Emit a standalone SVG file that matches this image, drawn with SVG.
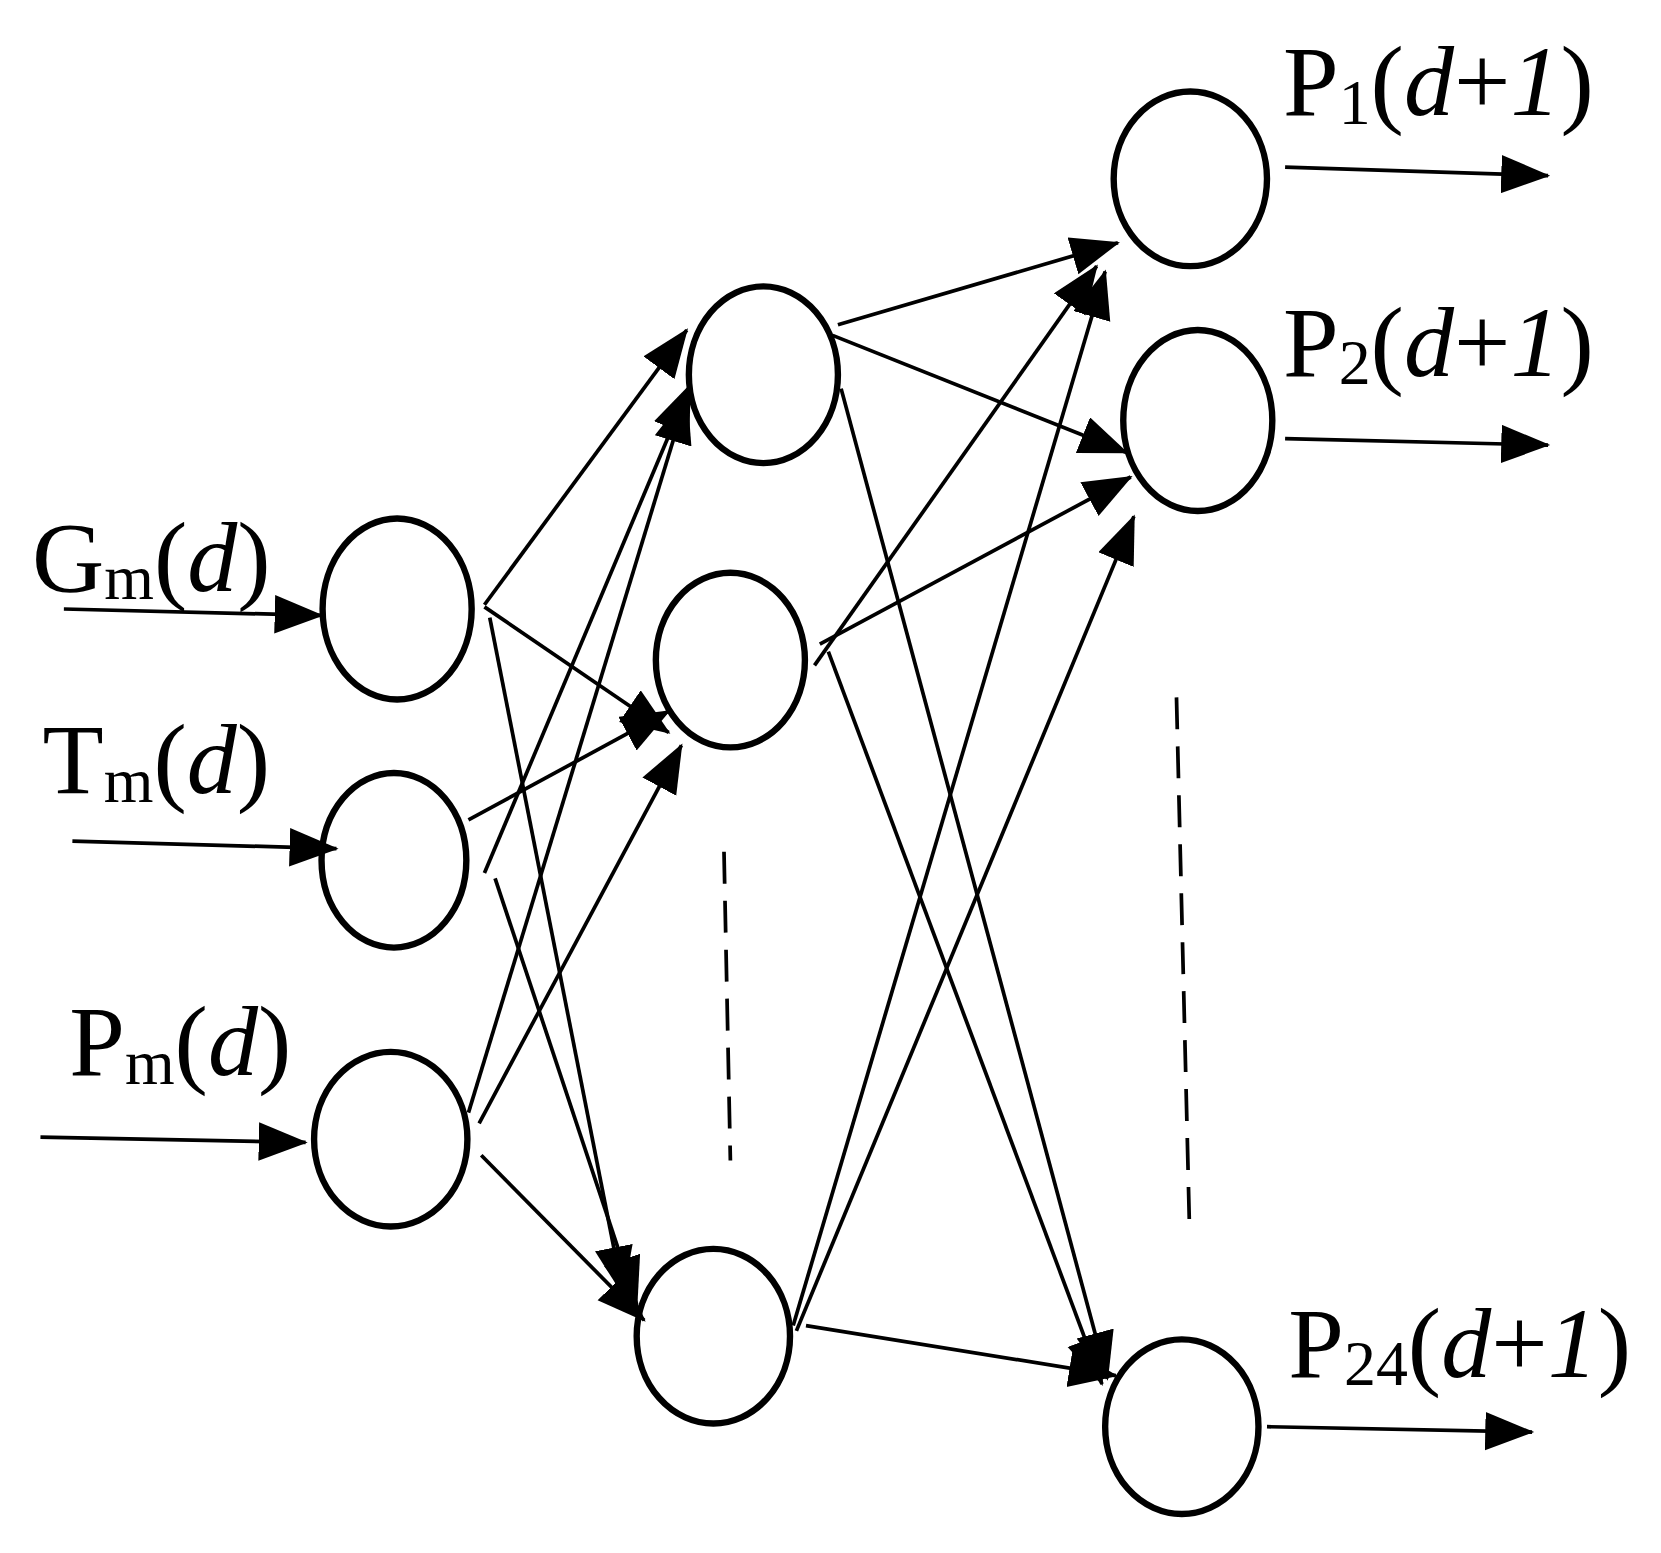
<svg xmlns="http://www.w3.org/2000/svg" width="1661" height="1553" viewBox="0 0 1661 1553">
<style>
.n{fill:none;stroke:#000;stroke-width:6}
.c line{stroke:#000;stroke-width:3.5;marker-end:url(#a)}
.d{stroke:#000;stroke-width:3.5;stroke-dasharray:30 16}
text{font-family:"Liberation Serif","Times New Roman",serif;font-size:94px;fill:#000}
.s{font-size:60px}
.i{font-style:italic}
</style>
<defs><marker id="a" markerUnits="userSpaceOnUse" markerWidth="48" markerHeight="40" refX="44" refY="18" orient="auto"><path d="M0,0L46,18L0,36z" fill="#000"/></marker></defs>
<rect width="1661" height="1553" fill="#fff"/>
<g transform="scale(1.0647)">
<g id="in1"><ellipse class="n" cx="373" cy="572" rx="70" ry="85"/><text x="30" y="555">G<tspan class="s" dy="8">m</tspan><tspan dy="-8">(</tspan><tspan class="i">d</tspan>)</text></g>
<g id="in2"><ellipse class="n" cx="370" cy="808" rx="68" ry="82"/><text x="40" y="745">T<tspan class="s" dy="8">m</tspan><tspan dy="-8">(</tspan><tspan class="i">d</tspan>)</text></g>
<g id="in3"><ellipse class="n" cx="367" cy="1070" rx="72" ry="82"/><text x="65" y="1010">P<tspan class="s" dy="8">m</tspan><tspan dy="-8">(</tspan><tspan class="i">d</tspan>)</text></g>
<g id="h1"><ellipse class="n" cx="717" cy="352" rx="70" ry="83"/></g>
<g id="h2"><ellipse class="n" cx="686" cy="620" rx="70" ry="82"/></g>
<g id="h3"><ellipse class="n" cx="670" cy="1255" rx="72" ry="82"/></g>
<g id="o1"><ellipse class="n" cx="1118" cy="168" rx="72" ry="82"/><text x="1205" y="108">P<tspan class="s" dy="8">1</tspan><tspan dy="-8">(</tspan><tspan class="i">d</tspan>+<tspan class="i">1</tspan>)</text></g>
<g id="o2"><ellipse class="n" cx="1125" cy="395" rx="70" ry="85"/><text x="1205" y="353">P<tspan class="s" dy="8">2</tspan><tspan dy="-8">(</tspan><tspan class="i">d</tspan>+<tspan class="i">1</tspan>)</text></g>
<g id="o3"><ellipse class="n" cx="1110" cy="1340" rx="72" ry="82"/><text x="1210" y="1293">P<tspan class="s" dy="8">24</tspan><tspan dy="-8">(</tspan><tspan class="i">d</tspan>+<tspan class="i">1</tspan>)</text></g>
<line class="d" x1="680" y1="800" x2="686" y2="1090"/>
<line class="d" x1="1105" y1="655" x2="1117" y2="1145"/>
<g class="c" id="connectors">
<line x1="60" y1="572" x2="302" y2="578"/>
<line x1="68" y1="790" x2="316" y2="797"/>
<line x1="38" y1="1068" x2="287" y2="1073"/>
<line x1="1207" y1="157" x2="1454" y2="165"/>
<line x1="1207" y1="412" x2="1454" y2="418"/>
<line x1="1190" y1="1340" x2="1439" y2="1345"/>
<line x1="455" y1="568" x2="645" y2="310"/>
<line x1="455" y1="570" x2="628" y2="688"/>
<line x1="460" y1="580" x2="585" y2="1215"/>
<line x1="440" y1="770" x2="628" y2="668"/>
<line x1="455" y1="820" x2="648" y2="362"/>
<line x1="465" y1="825" x2="598" y2="1225"/>
<line x1="440" y1="1045" x2="645" y2="372"/>
<line x1="450" y1="1055" x2="640" y2="700"/>
<line x1="452" y1="1085" x2="605" y2="1240"/>
<line x1="787" y1="305" x2="1050" y2="228"/>
<line x1="782" y1="315" x2="1058" y2="425"/>
<line x1="790" y1="365" x2="1040" y2="1295"/>
<line x1="765" y1="625" x2="1030" y2="250"/>
<line x1="770" y1="605" x2="1062" y2="448"/>
<line x1="778" y1="612" x2="1035" y2="1300"/>
<line x1="745" y1="1245" x2="1038" y2="255"/>
<line x1="748" y1="1250" x2="1065" y2="485"/>
<line x1="757" y1="1245" x2="1048" y2="1292"/>
</g>
</g>
</svg>
